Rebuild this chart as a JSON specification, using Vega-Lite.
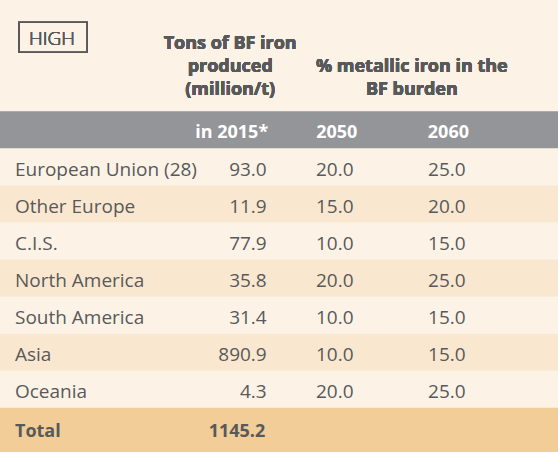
{
  "$schema": "https://vega.github.io/schema/vega-lite/v6.json",
  "width": 558,
  "height": {"step": 37.08},
  "autosize": {"type": "pad"},
  "padding": {"left": 0, "right": 0, "top": 0, "bottom": 7},
  "background": "#f2cd97",
  "config": {
    "view": {"stroke": null, "fill": "#fcf3e6"},
    "text": {"font": "Open Sans", "fontSize": 18, "color": "#58595b", "baseline": "middle"}
  },
  "data": {
    "values": [
      {"region": "European Union (28)", "p2015": 93.0, "p2050": 20.0, "p2060": 25.0},
      {"region": "Other Europe", "p2015": 11.9, "p2050": 15.0, "p2060": 20.0},
      {"region": "C.I.S.", "p2015": 77.9, "p2050": 10.0, "p2060": 15.0},
      {"region": "North America", "p2015": 35.8, "p2050": 20.0, "p2060": 25.0},
      {"region": "South America", "p2015": 31.4, "p2050": 10.0, "p2060": 15.0},
      {"region": "Asia", "p2015": 890.9, "p2050": 10.0, "p2060": 15.0},
      {"region": "Oceania", "p2015": 4.3, "p2050": 20.0, "p2060": 25.0},
      {"region": "Total", "p2015": 1145.2, "p2050": null, "p2060": null}
    ]
  },
  "layer": [
    {
      "mark": {"type": "rect"},
      "encoding": {
        "y": {"field": "region", "type": "nominal", "axis": null,
              "scale": {"domain": ["t1","t2","t3","head","European Union (28)","Other Europe","C.I.S.","North America","South America","Asia","Oceania","Total"], "paddingInner": 0, "paddingOuter": 0}},
        "color": {"field": "region", "type": "nominal", "legend": null,
                  "scale": {"domain": ["European Union (28)","Other Europe","C.I.S.","North America","South America","Asia","Oceania","Total"],
                            "range": ["#fcf3e6","#fae7d0","#fcf3e6","#fae7d0","#fcf3e6","#fae7d0","#fcf3e6","#f2cd97"]}}
      }
    },
    {
      "data": {"values": [{"row": "head"}]},
      "mark": {"type": "rect", "color": "#939598"},
      "encoding": {
        "y": {"field": "row", "type": "nominal", "axis": null}
      }
    },
    {
      "transform": [{"filter": "datum.region !== 'Total'"}],
      "mark": {"type": "text", "align": "left", "dx": -96.6, "dy": 3, "fontSize": 19},
      "encoding": {
        "x": {"datum": "Region", "type": "nominal", "axis": null,
              "scale": {"type": "point", "domain": ["Region","2015","2050","2060"], "padding": 1.03}},
        "y": {"field": "region", "type": "nominal", "axis": null},
        "text": {"field": "region"}
      }
    },
    {
      "transform": [{"filter": "datum.region !== 'Total'"}],
      "mark": {"type": "text", "align": "right", "dx": 43.5, "dy": 3, "fontSize": 19},
      "encoding": {
        "x": {"datum": "2015", "type": "nominal", "axis": null},
        "y": {"field": "region", "type": "nominal", "axis": null},
        "text": {"field": "p2015", "format": ".1f"}
      }
    },
    {
      "transform": [{"filter": "datum.region !== 'Total'"}],
      "mark": {"type": "text", "align": "center", "dx": 0, "dy": 3, "fontSize": 19},
      "encoding": {
        "x": {"datum": "2050", "type": "nominal", "axis": null},
        "y": {"field": "region", "type": "nominal", "axis": null},
        "text": {"field": "p2050", "format": ".1f"}
      }
    },
    {
      "transform": [{"filter": "datum.region !== 'Total'"}],
      "mark": {"type": "text", "align": "center", "dx": 0.5, "dy": 3, "fontSize": 19},
      "encoding": {
        "x": {"datum": "2060", "type": "nominal", "axis": null},
        "y": {"field": "region", "type": "nominal", "axis": null},
        "text": {"field": "p2060", "format": ".1f"}
      }
    },
    {
      "transform": [{"filter": "datum.region === 'Total'"}],
      "mark": {"type": "text", "align": "left", "dx": -96.6, "dy": 5.5, "fontWeight": "bold"},
      "encoding": {
        "x": {"datum": "Region", "type": "nominal", "axis": null},
        "y": {"field": "region", "type": "nominal", "axis": null},
        "text": {"field": "region"}
      }
    },
    {
      "transform": [{"filter": "datum.region === 'Total'"}],
      "mark": {"type": "text", "align": "right", "dx": 42, "dy": 5.5, "fontWeight": "bold"},
      "encoding": {
        "x": {"datum": "2015", "type": "nominal", "axis": null},
        "y": {"field": "region", "type": "nominal", "axis": null},
        "text": {"field": "p2015", "format": ".1f"}
      }
    },
    {
      "data": {"values": [{"row": "head", "col": "2015", "label": "in 2015*"}]},
      "mark": {"type": "text", "align": "right", "dx": 45, "dy": 3, "fontWeight": "bold", "color": "#ffffff"},
      "encoding": {
        "x": {"field": "col", "type": "nominal", "axis": null},
        "y": {"field": "row", "type": "nominal", "axis": null},
        "text": {"field": "label"}
      }
    },
    {
      "data": {"values": [{"row": "head", "col": "2050", "label": "2050"}, {"row": "head", "col": "2060", "label": "2060"}]},
      "mark": {"type": "text", "align": "center", "dx": 2, "dy": 3, "fontWeight": "bold", "color": "#ffffff"},
      "encoding": {
        "x": {"field": "col", "type": "nominal", "axis": null},
        "y": {"field": "row", "type": "nominal", "axis": null},
        "text": {"field": "label"}
      }
    },
    {
      "mark": {"type": "text", "align": "center", "dx": 7, "dy": -11.6, "fontWeight": "bold", "lineHeight": 23},
      "encoding": {
        "x": {"datum": "2015", "type": "nominal", "axis": null},
        "y": {"datum": "t2", "type": "nominal", "axis": null},
        "text": {"value": ["Tons of BF iron", "produced", "(million/t)"]}
      }
    },
    {
      "mark": {"type": "text", "align": "center", "dx": 77, "dy": 11.4, "fontWeight": "bold", "lineHeight": 23},
      "encoding": {
        "x": {"datum": "2050", "type": "nominal", "axis": null},
        "y": {"datum": "t2", "type": "nominal", "axis": null},
        "text": {"value": ["% metallic iron in the", "BF burden"]}
      }
    },
    {
      "mark": {"type": "rect", "width": 68.5, "height": 30, "xOffset": -58.5, "yOffset": 18.8, "fill": null, "fillOpacity": 0, "stroke": "#58595b", "strokeWidth": 1.3},
      "encoding": {
        "x": {"datum": "Region", "type": "nominal", "axis": null},
        "y": {"datum": "t1", "type": "nominal", "axis": null}
      }
    },
    {
      "mark": {"type": "text", "align": "center", "dx": -59.7, "dy": 20, "fontWeight": 300, "fontSize": 19},
      "encoding": {
        "x": {"datum": "Region", "type": "nominal", "axis": null},
        "y": {"datum": "t1", "type": "nominal", "axis": null},
        "text": {"value": "HIGH"}
      }
    }
  ]
}
